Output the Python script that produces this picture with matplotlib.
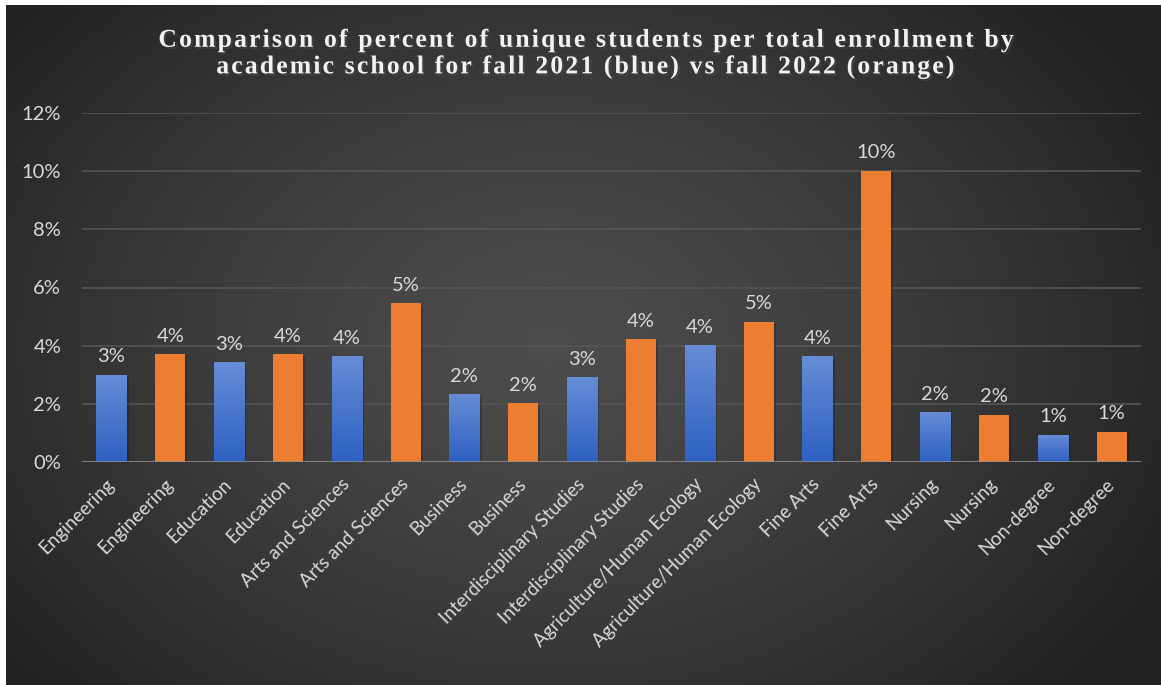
import matplotlib
matplotlib.use("Agg")
import matplotlib.pyplot as plt
import matplotlib.patheffects as pe
import numpy as np

# enrollment share by school, fall 2021 (blue) and fall 2022 (orange), in %
schools = ["Engineering", "Engineering", "Education", "Education",
           "Arts and Sciences", "Arts and Sciences", "Business", "Business",
           "Interdisciplinary Studies", "Interdisciplinary Studies",
           "Agriculture/Human Ecology", "Agriculture/Human Ecology",
           "Fine Arts", "Fine Arts", "Nursing", "Nursing",
           "Non-degree", "Non-degree"]
values = [3.0, 3.7, 3.43, 3.7, 3.63, 5.45, 2.33, 2.02, 2.91, 4.22,
          4.01, 4.83, 3.63, 10.0, 1.71, 1.61, 0.93, 1.03]
years = ["2021", "2022"] * 9

title = ("Comparison of percent of unique students per total enrollment by\n"
         "academic school for fall 2021 (blue) vs fall 2022 (orange)")

W, H = 1161, 685
fig = plt.figure(figsize=(W / 100, H / 100), dpi=100, facecolor="white")

# dark radial background
bg = fig.add_axes([6 / W, 0, 1 - 6 / W, 1 - 5 / H])
yy, xx = np.mgrid[0:1:300j, 0:1:500j]
r = np.sqrt(((xx - 0.47) / 0.6) ** 2 + ((yy - 0.5) / 0.75) ** 2)
shade = 0.30 - 0.165 * np.clip(r, 0, 1) ** 1.3
bg.imshow(np.dstack([shade] * 3), aspect="auto", extent=[0, 1, 0, 1],
          interpolation="bicubic")
bg.set_axis_off()

ax = fig.add_axes([82 / W, 1 - 462 / H, (1141 - 82) / W, (462 - 113) / H])
ax.set_facecolor("none")

text_col = "#d9d9d9"
font = "Lato"
fs = 14.5
x = np.arange(len(values))
width = 0.51

for xi, v, yr in zip(x, values, years):
    if yr == "2021":
        b = ax.bar(xi, v, width, color="#4472C4", zorder=3)[0]
        grad = np.linspace(0, 1, 100).reshape(-1, 1)
        top = np.array([0.40, 0.55, 0.84])
        bot = np.array([0.18, 0.38, 0.76])
        img = bot + (top - bot) * grad[..., None]
        im = ax.imshow(img, origin="lower", aspect="auto", zorder=3.5,
                       extent=[xi - width / 2, xi + width / 2, 0, v])
        im.set_clip_path(b)
    else:
        b = ax.bar(xi, v, width, color="#ED7D31", zorder=3)[0]
    b.set_path_effects([pe.SimplePatchShadow(offset=(1.5, -1.5), alpha=0.2,
                                             shadow_rgbFace="black"), pe.Normal()])
    ax.annotate("{:.0f}%".format(v), xy=(xi, v), xytext=(0, 7),
                textcoords="offset points", ha="center", va="bottom",
                color=text_col, fontsize=fs, family=font, zorder=5)

ax.set_xlim(-0.5, len(values) - 0.5)
ax.set_ylim(0, 12)
ax.set_yticks(np.arange(0, 13, 2))
ax.set_yticklabels(["{}%".format(t) for t in range(0, 13, 2)],
                   color=text_col, fontsize=fs, family=font)
ax.grid(axis="y", color="#555555", lw=1.2, zorder=0)
ax.axhline(0, color="#8f8f8f", lw=1.8, zorder=4)
for s in ax.spines.values():
    s.set_visible(False)
ax.tick_params(axis="both", length=0)
ax.tick_params(axis="y", pad=15)
ax.set_xticks(x)
ax.set_xticklabels(schools, rotation=45, ha="right", va="center",
                   rotation_mode="anchor", color=text_col, fontsize=13.5,
                   family=font)
ax.tick_params(axis="x", pad=14)


def spaced(s):
    return "\n".join("\u200a".join(line) for line in s.split("\n"))


fig.text(0.505, 0.958, spaced(title), ha="center", va="top",
         family=["Liberation Serif", "DejaVu Serif"], fontweight="bold",
         fontsize=18.5, color="#f2f2f2", linespacing=1.2,
         path_effects=[pe.withSimplePatchShadow(offset=(1.5, -1.5), alpha=0.6)])

fig.savefig("out.png", dpi=100, facecolor="white")
